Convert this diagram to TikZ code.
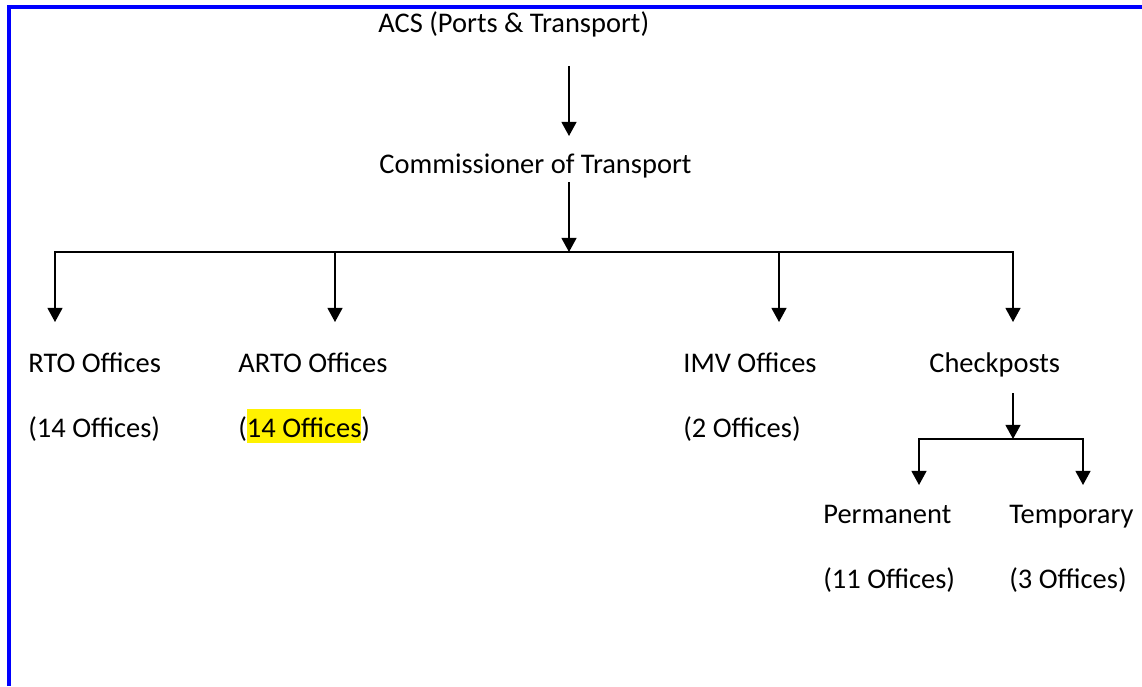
\documentclass[tikz,border=0pt]{standalone}
\usepackage{fontspec}
\setmainfont{Carlito}
\usepackage{xcolor}
\usetikzlibrary{arrows.meta}
\newcommand{\hlt}[1]{{\setlength{\fboxsep}{0pt}\colorbox{yellow}{\rule[-3.4pt]{0pt}{19.3pt}#1}}}

\begin{document}
\begin{tikzpicture}[x=0.02cm, y=-0.02cm,
  every node/.style={font=\fontsize{16.2}{19}\selectfont, anchor=base west, inner sep=0pt},
  arr/.style={-{Triangle[width=8.5pt,length=8pt]}, line width=0.85pt},
  twoarr/.style={{Triangle[width=8.5pt,length=8pt]}-{Triangle[width=8.5pt,length=8pt]}, line width=0.85pt}]
\useasboundingbox (0,0) rectangle (1142,686);
% page frame (top and left only)
\draw[blue, line width=2.3pt] (9,686) -- (9,7) -- (1142,7);
% titles
\node (acs) at (378,33) {ACS (Ports \& Transport)};
\node (comm) at (379,173) {Commissioner of Transport};
% offices
\node (rto) at (28,372) {RTO Offices};
\node (rton) at (28,437) {(14 Offices)};
\node (arto) at (238,372) {ARTO Offices};
\node (arton) at (238,437) {(\hlt{14 Offices})};
\node (imv) at (683,372) {IMV Offices};
\node (imvn) at (683,437) {(2 Offices)};
\node (chk) at (929,372) {Checkposts};
% checkposts split
\node (perm) at (823,523) {Permanent};
\node (permn) at (823,588) {(11 Offices)};
\node (temp) at (1009,523) {Temporary};
\node (tempn) at (1009,588) {(3 Offices)};
% connector points
\coordinate (s1) at (569,66);
\coordinate (e1) at (569,136);
\coordinate (s2) at (569,182);
\coordinate (hub) at (569,252);
\coordinate (b1) at (55,252);
\coordinate (b2) at (335,252);
\coordinate (b3) at (779,252);
\coordinate (b4) at (1013,252);
\coordinate (t1) at (55,322);
\coordinate (t2) at (335,322);
\coordinate (t3) at (779,322);
\coordinate (t4) at (1013,322);
\coordinate (s3) at (1013,393);
\coordinate (hub2) at (1013,439);
\coordinate (c1) at (919,439);
\coordinate (c2) at (1083,439);
\coordinate (u1) at (919,485);
\coordinate (u2) at (1083,485);
% arrows
\draw[arr] (s1) -- (e1);
\draw[arr] (s2) -- (hub);
\draw[twoarr] (t1) -- (b1) -- (b4) -- (t4);
\draw[arr] (b2) -- (t2);
\draw[arr] (b3) -- (t3);
\draw[arr] (s3) -- (hub2);
\draw[twoarr] (u1) -- (c1) -- (c2) -- (u2);
\end{tikzpicture}
\end{document}
